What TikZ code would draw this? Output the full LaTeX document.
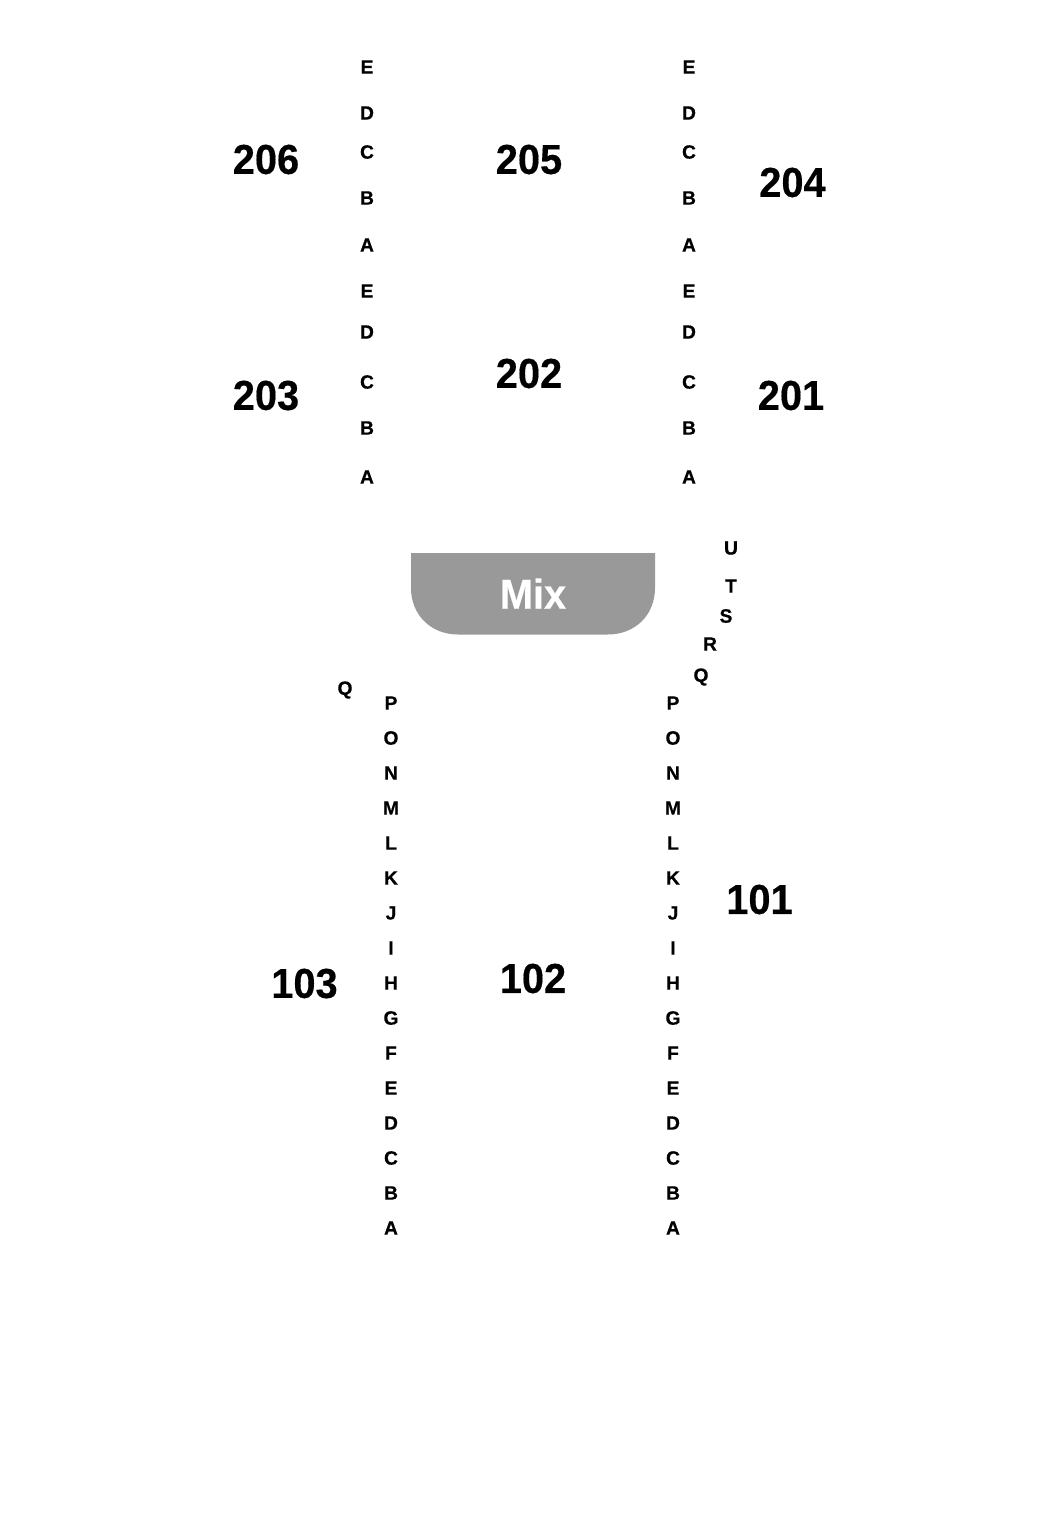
\documentclass[tikz,border=0pt]{standalone}
\usepackage{fontspec}
\setmainfont{Liberation Sans}
\newfontfamily\rowfont[BoldFont={Liberation Sans Bold},BoldFeatures={FakeBold=0.4}]{Liberation Sans}
\newfontfamily\labfont[BoldFont={Liberation Sans Bold},BoldFeatures={FakeStretch=0.95,FakeBold=0.4}]{Liberation Sans}
\tikzset{x=0.0264583cm,y=-0.0264583cm,
 rowlab/.style={font=\rowfont\fontsize{14.5}{16}\selectfont\bfseries,inner sep=0pt,anchor=center,text=black},
 seclab/.style={font=\labfont\fontsize{31.5}{34}\selectfont\bfseries,inner sep=0pt,anchor=center,text=black},
 mixlab/.style={font=\labfont\fontsize{31.5}{34}\selectfont\bfseries,inner sep=0pt,anchor=center,text=white}}
\begin{document}
\begin{tikzpicture}
\useasboundingbox (0,0) rectangle (1050,1516);
\fill[white] (0,0) rectangle (1050,1516);
\fill[fill=black!40!white] (411,553) -- (655,553) -- (655,588) .. controls (655,615) and (635,634.5) .. (608,634.5) -- (458,634.5) .. controls (431,634.5) and (411,615) .. (411,588) -- cycle;
\node[mixlab] (mix) at (533,593.5) {Mix};
\node[seclab] (s206) at (266,159.5) {206};
\node[seclab] (s205) at (529,159.5) {205};
\node[seclab] (s204) at (792.5,182.5) {204};
\node[seclab] (s203) at (266,395.5) {203};
\node[seclab] (s202) at (529,373.5) {202};
\node[seclab] (s201) at (791,395.5) {201};
\node[seclab] (s101) at (759.5,899.5) {101};
\node[seclab] (s102) at (533,978.5) {102};
\node[seclab] (s103) at (304.5,983.5) {103};
\foreach \x in {367,689}{
 \foreach \t/\y in {E/67,D/113,C/152,B/198,A/245,E/291,D/332,C/382,B/428,A/477}{
  \node[rowlab] (r\x-\y) at (\x,\y) {\t};
 }
}
\foreach \x in {391,673}{
 \foreach \t/\y in {P/703,O/738,N/773,M/808,L/843,K/878,J/913,I/948,H/983,G/1018,F/1053,E/1088,D/1123,C/1158,B/1193,A/1228}{
  \node[rowlab] (r\x-\y) at (\x,\y) {\t};
 }
}
\foreach \t/\x/\y in {U/731/548,T/731/586,S/726/616,R/710/644,Q/701/677,Q/345/690}{
 \node[rowlab] (x\x-\y) at (\x,\y) {\t};
}
\end{tikzpicture}
\end{document}
